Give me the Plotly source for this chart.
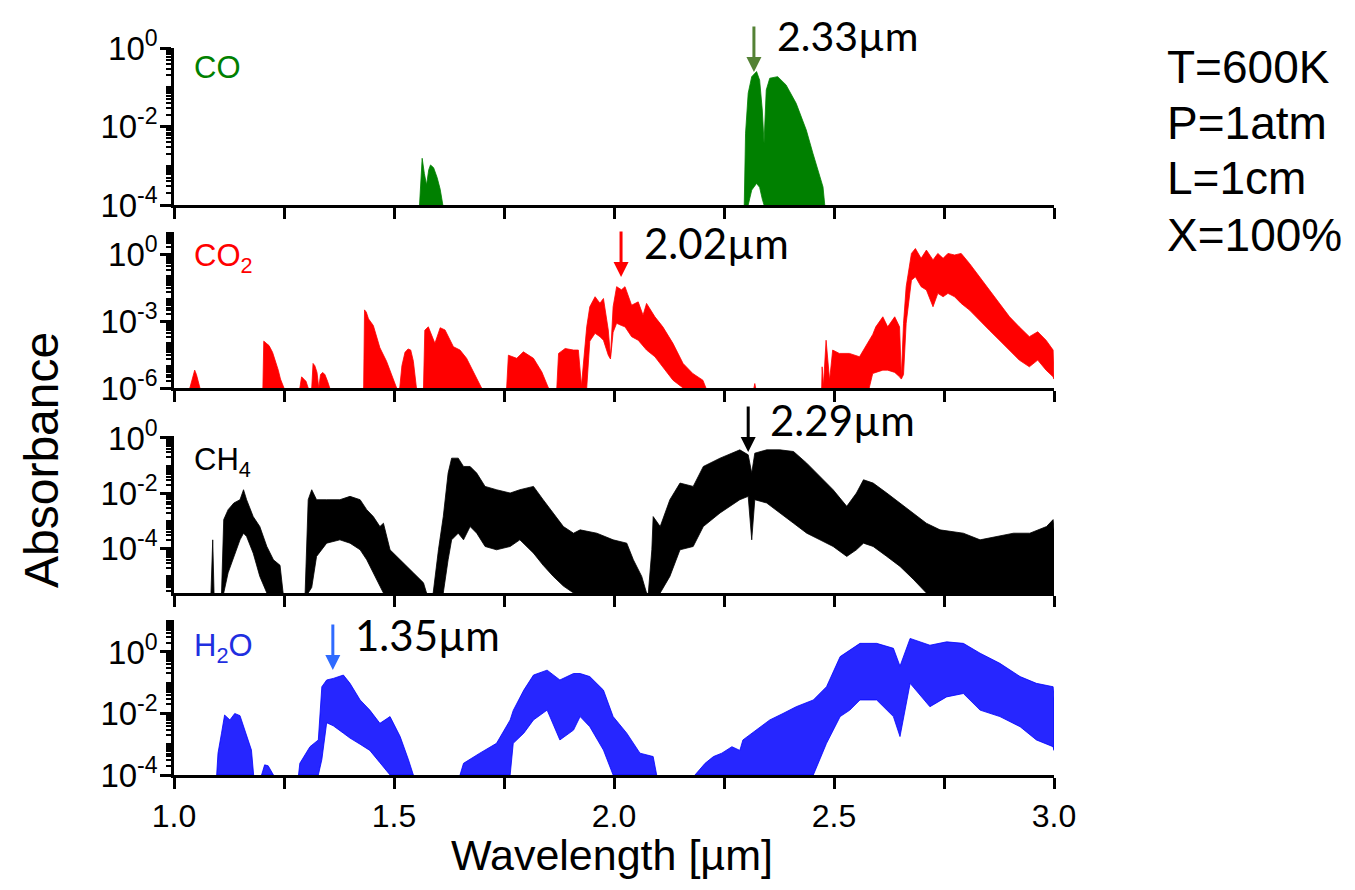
import plotly.graph_objects as go

# ---------------- data (log10 absorbance envelopes) ----------------
# None separates absorption bands; HI = upper envelope, LO = lower envelope (floor = axis min)
CO_WL = [1.558, 1.561, 1.564, 1.569, 1.574, 1.579, 1.583, 1.590, 1.598, 1.605, 1.611, None,
         2.296, 2.299, 2.305, 2.313, 2.324, 2.331, 2.337, 2.341, 2.346, 2.354, 2.372, 2.391,
         2.414, 2.437, 2.452, 2.463, 2.475, 2.479]
CO_HI = [-4, -3.2, -2.81, -3.2, -3.49, -3.1, -2.98, -3.05, -3.3, -3.6, -4, None,
         -4, -2.17, -1.15, -0.73, -0.60, -0.82, -1.58, -2.43, -1.07, -0.77, -0.73, -0.94,
         -1.41, -2.09, -2.68, -3.11, -3.54, -4]
CO_LO = [-4, -4, -4, -4, -4, -4, -4, -4, -4, -4, -4, None,
         -4, -4, -4, -3.62, -3.45, -3.55, -3.85, -4, -4, -4, -4, -4,
         -4, -4, -4, -4, -4, -4]

CO2_WL = [1.036, 1.040, 1.044, 1.047, 1.051, 1.055, 1.059, None,
          1.202, 1.204, 1.210, 1.216, 1.224, 1.231, 1.237, 1.242, 1.250, None,
          1.286, 1.290, 1.295, 1.300, 1.305, None,
          1.313, 1.316, 1.320, 1.325, 1.329, 1.333, 1.338, 1.343, 1.349, 1.354, None,
          1.431, 1.433, 1.437, 1.442, 1.453, 1.468, 1.483, 1.498, 1.506, None,
          1.513, 1.518, 1.525, 1.532, 1.538, 1.544, 1.551, None,
          1.567, 1.570, 1.578, 1.593, 1.605, 1.616, 1.635, 1.650, 1.665, 1.684, 1.699, None,
          1.756, 1.760, 1.779, 1.794, 1.817, 1.836, 1.851, None,
          1.870, 1.874, 1.889, 1.908, 1.919, 1.926, 1.938, 1.945, 1.957, 1.968, 1.976, 1.987,
          1.992, 1.998, 2.006, 2.017, 2.025, 2.040, 2.055, 2.066, 2.074, 2.093, 2.111, 2.134,
          2.157, 2.179, 2.202, 2.209, None,
          2.318, 2.320, 2.322, None,
          2.472, 2.473, 2.476, 2.482, 2.490, 2.497, 2.512, 2.535, 2.558, 2.580,
          2.588, 2.595, 2.611, 2.622, 2.638, 2.649, 2.653, 2.658, 2.664, 2.676,
          2.685, 2.698, 2.710, 2.725, 2.736, 2.748, 2.759, 2.774, 2.789, 2.808,
          2.831, 2.853, 2.876, 2.899, 2.921, 2.944, 2.963, 2.982, 2.998, 3.0]
CO2_HI = [-6, -5.7, -5.5, -5.2, -5.4, -5.7, -6, None,
          -6, -3.9, -4.0, -4.1, -4.4, -4.8, -5.2, -5.6, -6, None,
          -6, -5.5, -5.6, -5.7, -6, None,
          -6, -4.9, -5.0, -5.3, -6.0, -5.4, -5.3, -5.4, -5.7, -6, None,
          -6, -2.5, -2.6, -2.9, -3.2, -4.2, -4.8, -5.6, -6, None,
          -6, -5.0, -4.4, -4.25, -4.3, -4.8, -6, None,
          -6, -3.41, -3.26, -4.0, -3.3, -3.4, -4.15, -4.3, -4.67, -5.4, -6, None,
          -6, -4.53, -4.67, -4.38, -4.67, -5.28, -6, None,
          -6, -4.45, -4.23, -4.3, -4.3, -5.9, -3.26, -2.36, -1.91, -2.2, -1.99, -3.4,
          -4.6, -2.36, -1.46, -1.6, -1.46, -2.29, -2.14, -2.74, -2.21, -2.81, -3.26, -4.0,
          -4.9, -5.35, -5.65, -6, None,
          -6, -5.8, -6, None,
          -6, -5.05, -5.9, -3.86, -5.65, -4.3, -4.45, -4.45, -4.6, -3.86,
          -3.6, -3.26, -2.81, -3.26, -2.81, -3.26, -5.5, -3.1, -1.46, 0.03,
          0.25, -0.19, 0.18, -0.26, 0.03, -0.19, 0.03, -0.04, 0.03, -0.42,
          -1.02, -1.61, -2.21, -2.81, -3.26, -3.7, -3.48, -3.86, -4.3, -5.35]
CO2_LO = [-6, -6, -6, -6, -6, -6, -6, None,
          -6, -6, -6, -6, -6, -6, -6, -6, -6, None,
          -6, -6, -6, -6, -6, None,
          -6, -6, -6, -6, -6, -6, -6, -6, -6, -6, None,
          -6, -6, -6, -6, -6, -6, -6, -6, -6, None,
          -6, -6, -6, -6, -6, -6, -6, None,
          -6, -6, -6, -6, -6, -6, -6, -6, -6, -6, -6, None,
          -6, -6, -6, -6, -6, -6, -6, None,
          -6, -6, -6, -6, -6, -6, -6, -3.9, -3.55, -3.7, -3.86, -4.53,
          -4.7, -3.5, -3.1, -3.2, -3.26, -3.7, -3.86, -4.1, -4.3, -4.6, -5.05, -5.65,
          -6, -6, -6, -6, None,
          -6, -6, -6, None,
          -6, -6, -6, -6, -6, -6, -6, -6, -6, -6,
          -5.35, -5.3, -5.2, -5.2, -5.3, -5.5, -5.6, -5.4, -3.1, -1.17,
          -1.02, -1.46, -1.61, -2.36, -1.76, -1.91, -1.76, -1.91, -2.21, -2.51,
          -2.96, -3.41, -3.86, -4.3, -4.75, -5.05, -4.75, -5.2, -5.5, -5.6]

CH4_WL = [1.084, 1.088, 1.091, None,
          1.108, 1.113, 1.123, 1.136, 1.150, 1.158, 1.165, 1.180, 1.195, 1.211, 1.226, 1.241, 1.248, None,
          1.298, 1.305, 1.313, 1.324, 1.347, 1.377, 1.400, 1.423, 1.438, 1.453, 1.468, 1.476,
          1.491, 1.506, 1.525, 1.544, 1.567, 1.574, None,
          1.589, 1.601, 1.612, 1.623, 1.631, 1.646, 1.658, 1.673, 1.688, 1.707, 1.733, 1.764,
          1.786, 1.817, 1.839, 1.862, 1.885, 1.908, 1.923, 1.961, 1.998, 2.029, 2.044, 2.063, 2.074, None,
          2.078, 2.086, 2.089, 2.105, 2.127, 2.150, 2.180, 2.203, 2.241, 2.286, 2.305, 2.313,
          2.320, 2.347, 2.377, 2.408, 2.438, 2.468, 2.498, 2.529, 2.551, 2.567, 2.589, 2.620,
          2.650, 2.680, 2.710, 2.741, 2.794, 2.832, 2.870, 2.908, 2.945, 2.983, 2.998, 3.0]
CH4_HI = [-5.6, -3.68, -5.6, None,
          -5.6, -2.95, -2.59, -2.35, -2.23, -1.87, -2.23, -2.84, -3.2, -3.92, -4.4, -4.6, -5.6, None,
          -5.6, -2.23, -1.87, -2.23, -2.23, -2.23, -2.11, -2.23, -2.59, -2.84, -3.2, -3.08,
          -4.04, -4.28, -4.6, -4.87, -5.23, -5.6, None,
          -5.6, -4.04, -2.84, -1.27, -0.73, -0.73, -1.03, -1.03, -1.27, -1.75, -1.87, -1.99,
          -1.87, -1.75, -2.23, -2.71, -3.2, -3.44, -3.32, -3.44, -3.68, -3.8, -4.4, -5.0, -5.6, None,
          -5.6, -4.04, -2.84, -3.2, -2.23, -1.63, -1.75, -1.03, -0.73, -0.43, -0.61, -1.27,
          -0.55, -0.43, -0.43, -0.49, -0.91, -1.39, -1.87, -2.47, -1.99, -1.51, -1.63, -1.99,
          -2.35, -2.71, -3.08, -3.32, -3.44, -3.68, -3.56, -3.44, -3.44, -3.2, -2.95, -3.3]
CH4_LO = [-5.6, -5.6, -5.6, None,
          -5.6, -5.6, -4.87, -4.28, -3.68, -3.44, -3.56, -4.16, -5.0, -5.6, -5.6, -5.6, -5.6, None,
          -5.6, -5.6, -5.4, -4.28, -3.8, -3.68, -3.8, -4.04, -4.4, -4.87, -5.35, -5.6,
          -5.6, -5.6, -5.6, -5.6, -5.6, -5.6, None,
          -5.6, -5.6, -5.6, -4.4, -3.68, -3.44, -3.68, -3.2, -3.44, -3.92, -4.04, -3.92,
          -3.68, -4.16, -4.6, -5.0, -5.35, -5.6, -5.6, -5.6, -5.6, -5.6, -5.6, -5.6, -5.6, None,
          -5.6, -5.6, -5.6, -5.6, -5.0, -4.04, -3.92, -3.2, -2.71, -2.23, -2.11, -3.68,
          -2.23, -2.35, -2.71, -3.08, -3.44, -3.68, -3.92, -4.28, -4.04, -3.8, -3.92, -4.28,
          -4.64, -5.1, -5.6, -5.6, -5.6, -5.6, -5.6, -5.6, -5.6, -5.6, -5.6, -5.6]

H2O_WL = [1.097, 1.100, 1.108, 1.115, 1.127, 1.138, 1.150, 1.161, 1.168, 1.176, 1.181, None,
          1.199, 1.206, 1.214, 1.226, None,
          1.283, 1.286, 1.309, 1.328, 1.336, 1.347, 1.362, 1.385, 1.400, 1.423, 1.445, 1.468,
          1.491, 1.514, 1.533, 1.544, None,
          1.650, 1.658, 1.695, 1.733, 1.764, 1.771, 1.795, 1.817, 1.848, 1.877, 1.908, 1.923,
          1.945, 1.976, 1.998, 2.029, 2.059, 2.089, 2.097, None,
          2.184, 2.207, 2.226, 2.245, 2.268, 2.286, 2.293, 2.323, 2.354, 2.384, 2.414, 2.453,
          2.483, 2.514, 2.536, 2.559, 2.597, 2.635, 2.650, 2.673, 2.718, 2.756, 2.794, 2.832,
          2.877, 2.923, 2.960, 2.998, 3.0]
H2O_HI = [-4, -3.29, -2.64, -2.05, -2.21, -2.0, -2.07, -2.54, -2.9, -3.19, -4, None,
          -4, -3.67, -3.7, -4, None,
          -4, -3.62, -3.08, -2.86, -1.13, -0.91, -0.86, -0.75, -1.02, -1.56, -1.89, -2.32,
          -2.1, -2.75, -3.51, -4, None,
          -4, -3.62, -3.29, -2.97, -2.21, -1.9, -1.24, -0.75, -0.59, -0.91, -0.7, -0.7,
          -0.8, -1.24, -2.1, -2.64, -3.29, -3.4, -4, None,
          -4, -3.62, -3.4, -3.29, -3.08, -3.2, -2.86, -2.54, -2.21, -2.0, -1.78, -1.56,
          -1.13, -0.15, 0.07, 0.28, 0.28, 0.12, -0.46, 0.44, 0.22, 0.33, 0.28, -0.04,
          -0.37, -0.8, -1.02, -1.13, -1.5]
H2O_LO = [-4, -4, -4, -4, -4, -4, -4, -4, -4, -4, -4, None,
          -4, -4, -4, -4, None,
          -4, -4, -4, -4, -3.5, -2.3, -2.4, -2.64, -2.8, -3.0, -3.2, -3.6,
          -4, -4, -4, -4, None,
          -4, -4, -4, -4, -4, -2.97, -2.64, -2.21, -1.89, -2.86, -2.54, -2.1,
          -2.43, -3.19, -4, -4, -4, -4, -4, None,
          -4, -4, -4, -4, -4, -4, -4, -4, -4, -4, -4, -4,
          -2.97, -2.1, -1.89, -1.56, -1.56, -2.1, -2.75, -1.02, -1.78, -1.46, -1.35, -1.89,
          -2.1, -2.43, -2.86, -3.08, -3.2]

X_TICKS = [1.0, 1.5, 2.0, 2.5, 3.0]
X_TICKTEXT = ["1.0", "1.5", "2.0", "2.5", "3.0"]

PANELS = [
    # name, label html, colour, log range, tick exponents, wl, hi, lo
    ("CO", "CO", "#008000", [-4, 0], [0, -2, -4], CO_WL, CO_HI, CO_LO),
    ("CO2", "CO<sub>2</sub>", "#FF0000", [-6, 0.99], [0, -3, -6], CO2_WL, CO2_HI, CO2_LO),
    ("CH4", "CH<sub>4</sub>", "#000000", [-5.6, 0.07], [0, -2, -4], CH4_WL, CH4_HI, CH4_LO),
    ("H2O", "H<sub>2</sub>O", "#0000FF", [-4, 1.04], [0, -2, -4], H2O_WL, H2O_HI, H2O_LO),
]

PEAKS = [  # wavelength of arrow, label, arrow colour
    (2.318, "2.33µm", "#548235"),
    (2.016, "2.02µm", "#FF0000"),
    (2.305, "2.29µm", "#000000"),
    (1.361, "1.35µm", "#2F6BFF"),
]

# ---------------- layout geometry ----------------
# the page places the figure 8 px from the top-left corner, so the figure is 8 px smaller
OFF = 8
W, H = 1355 - OFF, 890 - OFF
X0, X1 = 174, 1054           # page pixels of the plot area (left/right)
Y0, Y1 = 48, 775             # page pixels of the plot area (top/bottom)
L, R, T, B = X0 - OFF, 1355 - X1, Y0 - OFF, 890 - Y1
PANEL_PX = [(48, 205), (232, 388), (436, 593), (620, 775)]


def py(yp):
    return (Y1 - yp) / (Y1 - Y0)


def pxp(xp):
    return (xp - X0) / (X1 - X0)


def polygons(wl, hi, lo):
    xs, ys, seg = [], [], []
    for w, h, l in zip(wl + [None], hi + [None], lo + [None]):
        if w is None:
            if seg:
                ws = [s[0] for s in seg]
                hs = [10 ** s[1] for s in seg]
                ls = [10 ** s[2] for s in seg]
                xs += ws + ws[::-1] + [ws[0], None]
                ys += hs + ls[::-1] + [hs[0], None]
            seg = []
        else:
            seg.append((w, h, l))
    return xs, ys


fig = go.Figure()
AXFONT = dict(family="Liberation Sans, Arial, sans-serif", size=33, color="black")
layout = dict(width=W, height=H, margin=dict(l=L, r=R, t=T, b=B, autoexpand=False),
              paper_bgcolor="white", plot_bgcolor="white", showlegend=False)
annotations = []

for i, (name, lab, col, rng, exps, wl, hi, lo) in enumerate(PANELS):
    n = "" if i == 0 else str(i + 1)
    xs, ys = polygons(wl, hi, lo)
    fillc = col if name != "H2O" else "rgba(0,0,255,0.85)"
    fig.add_trace(go.Scatter(x=xs, y=ys, mode="lines", fill="toself", fillcolor=fillc,
                             line=dict(color=col, width=0.8), xaxis="x" + n, yaxis="y" + n,
                             hoverinfo="skip"))
    top, bot = PANEL_PX[i]
    layout["xaxis" + n] = dict(
        domain=[0, 1], anchor="y" + n, range=[1, 3], showline=True, linecolor="black",
        linewidth=2.5, ticks="outside", ticklen=11, tickwidth=2.5, tickcolor="black",
        tickmode="array", tickvals=X_TICKS, ticktext=X_TICKTEXT, showgrid=False,
        minor=dict(ticks="outside", dtick=0.25, ticklen=11, tickwidth=2.5, tickcolor="black",
                   showgrid=False),
        zeroline=False, showticklabels=(i == 3), tickfont=dict(AXFONT, size=32),
        automargin=False, **({} if i == 0 else {"matches": "x"}))
    layout["yaxis" + n] = dict(
        domain=[py(bot), py(top)], anchor="x" + n, type="log", range=rng,
        showline=True, linecolor="black", linewidth=2.5, ticks="outside", ticklen=11,
        tickwidth=2.5, tickcolor="black", tickmode="array",
        tickvals=[10 ** e for e in exps],
        ticktext=["10<sup>%d</sup>" % e for e in exps],
        minor=dict(ticks="outside", ticklen=5, tickwidth=1.5, tickcolor="black", dtick="D1"),
        showgrid=False, zeroline=False, tickfont=AXFONT, ticklabelstandoff=-4,
        automargin=False)
    # species label
    annotations.append(dict(text=lab, xref="paper", yref="paper", x=pxp(192),
                            y=py([68, 258, 462, 648][i]), xanchor="left", yanchor="middle",
                            showarrow=False,
                            font=dict(family="Liberation Sans, Arial", size=31,
                                      color=col if name != "H2O" else "#1F2FE0")))

# arrows and peak labels
ARROW_TIP = [72, 277, 452, 670]
TEXT_POS = [(775, 9, "top"), (642, 243, "middle"), (768, 420, "middle"), (353, 635, "middle")]
for i, (wl0, txt, col) in enumerate(PEAKS):
    annotations.append(dict(x=wl0, y=py(ARROW_TIP[i]), xref="x", yref="paper", text="",
                            showarrow=True, ax=0, ay=-47, arrowhead=2, arrowsize=1,
                            arrowwidth=3, arrowcolor=col))
    tx, ty, anc = TEXT_POS[i]
    annotations.append(dict(x=pxp(tx), y=py(ty), xref="paper", yref="paper", text=txt,
                            showarrow=False, xanchor="left", yanchor=anc,
                            font=dict(family="Lato, Open Sans, sans-serif",
                                      size=41 if i == 0 else 42, color="black")))

# condition block
for txt, yp in zip(["T=600K", "P=1atm", "L=1cm", "X=100%"], [67, 123, 178, 235]):
    annotations.append(dict(x=pxp(1165), y=py(yp), xref="paper", yref="paper", text=txt,
                            showarrow=False, xanchor="left", yanchor="middle",
                            font=dict(family="Liberation Sans, Arial", size=46,
                                      color="black")))

# axis titles
annotations.append(dict(x=pxp(41), y=py(460), xref="paper", yref="paper", text="Absorbance",
                        textangle=-90, showarrow=False, xanchor="center", yanchor="middle",
                        font=dict(family="Liberation Sans, Arial", size=48, color="black")))
annotations.append(dict(x=pxp(612), y=py(855), xref="paper", yref="paper",
                        text="Wavelength [µm]", showarrow=False, xanchor="center",
                        yanchor="middle",
                        font=dict(family="Liberation Sans, Arial", size=43, color="black")))

layout["annotations"] = annotations
fig.update_layout(**layout)
fig.write_html("out.html")
